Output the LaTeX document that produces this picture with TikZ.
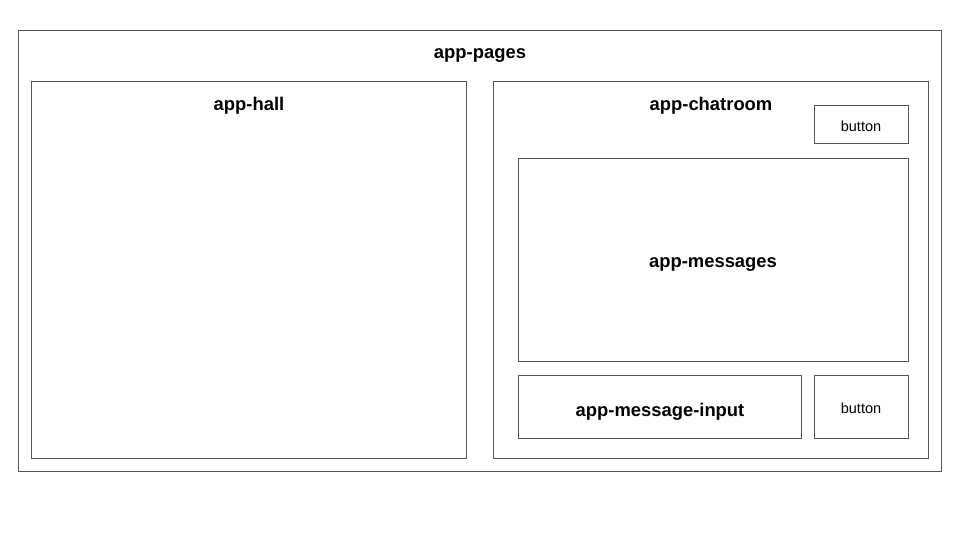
\documentclass[tikz,border=0pt]{standalone}
\usepackage{fontspec}
\setmainfont{Liberation Sans}
\definecolor{edge}{HTML}{555555}
\tikzset{
  box/.style={draw=edge, line width=0.9pt},
  title/.style={font=\fontsize{18.4}{20}\selectfont\bfseries, text=black, inner sep=0pt, yshift=-3.5pt},
  btntext/.style={font=\fontsize{14.5}{16}\selectfont, text=black, inner sep=0pt, yshift=-1.5pt}
}
\begin{document}
\begin{tikzpicture}[x=1pt,y=-1pt]
\useasboundingbox (0,0) rectangle (960,540);
\fill[white] (0,0) rectangle (960,540);
% outer
\draw[box] (18,30) rectangle (941,471);
\node[title] (pages) at (480,52) {app-pages};
% hall
\draw[box] (31,81) rectangle (466,458);
\node[title] (hall) at (249,102) {app-hall};
% chatroom
\draw[box] (493,81) rectangle (928,458);
\node[title] (chat) at (711,102) {app-chatroom};
% top button
\draw[box] (814,105) rectangle (908,143);
\node[btntext] (btn1) at (861,125) {button};
% messages
\draw[box] (518,158) rectangle (908,361);
\node[title] (msgs) at (713,261) {app-messages};
% input
\draw[box] (518,375) rectangle (801,438);
\node[title] (inp) at (660,408) {app-message-input};
% bottom button
\draw[box] (814,375) rectangle (908,438);
\node[btntext] (btn2) at (861,407) {button};
\end{tikzpicture}
\end{document}
